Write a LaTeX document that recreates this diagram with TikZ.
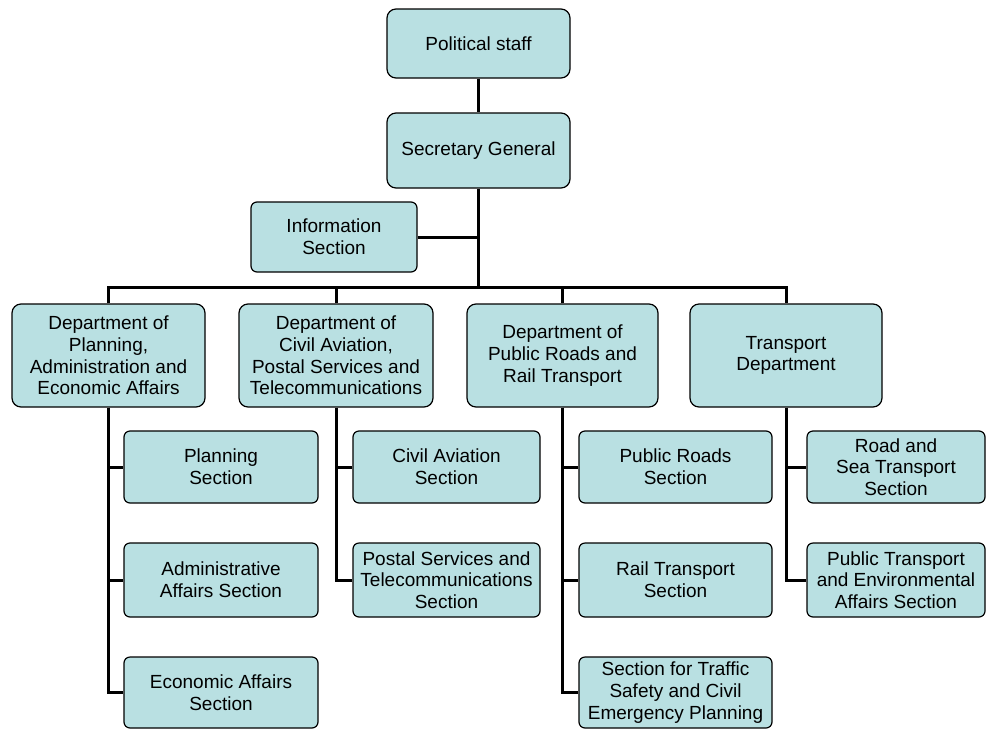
\documentclass[tikz,border=0pt]{standalone}
\usepackage{fontspec}
\setmainfont{Liberation Sans}
\definecolor{boxfill}{RGB}{185,224,226}
\begin{document}
\begin{tikzpicture}[x=1pt,y=-1pt,
  box/.style={draw=black,line width=1.2pt,fill=boxfill,rounded corners=9pt,align=center,
    inner sep=0pt,font=\fontsize{19}{21.7}\selectfont},
  sect/.style={box,rounded corners=6pt},
  link/.style={line width=3pt}]
\useasboundingbox (0,0) rectangle (988,729);
\node[box,minimum width=183pt,minimum height=69pt] (pol) at (478.5,43.5) {Political staff};
\node[box,minimum width=183pt,minimum height=75pt] (sec) at (478.5,150.5) {Secretary General};
\node[sect,minimum width=166pt,minimum height=70pt] (info) at (334,237) {Information\\Section};
\node[box,minimum width=193pt,minimum height=103pt] (d1) at (108.5,355.5) {Department of\\Planning,\\Administration and\\Economic Affairs};
\node[box,minimum width=194pt,minimum height=103pt] (d2) at (336,355.5) {Department of\\Civil Aviation,\\Postal Services and\\Telecommunications};
\node[box,minimum width=191pt,minimum height=103pt] (d3) at (562.5,355.5) {Department of\\Public Roads and\\Rail Transport};
\node[box,minimum width=192pt,minimum height=103pt] (d4) at (786,355.5) {Transport\\Department};
\node[sect,minimum width=194pt,minimum height=72pt] (s11) at (221,467) {Planning\\Section};
\node[sect,minimum width=194pt,minimum height=74pt] (s12) at (221,580) {Administrative\\Affairs Section};
\node[sect,minimum width=194pt,minimum height=71pt] (s13) at (221,692.5) {Economic Affairs\\Section};
\node[sect,minimum width=187pt,minimum height=72pt] (s21) at (446.5,467) {Civil Aviation\\Section};
\node[sect,minimum width=187pt,minimum height=74pt] (s22) at (446.5,580) {Postal Services and\\Telecommunications\\Section};
\node[sect,minimum width=193pt,minimum height=72pt] (s31) at (675.5,467) {Public Roads\\Section};
\node[sect,minimum width=193pt,minimum height=74pt] (s32) at (675.5,580) {Rail Transport\\Section};
\node[sect,minimum width=193pt,minimum height=71pt] (s33) at (675.5,692.5) {Section for Traffic\\Safety and Civil\\Emergency Planning};
\node[sect,minimum width=178pt,minimum height=72pt] (s41) at (896,467) {Road and\\Sea Transport\\Section};
\node[sect,minimum width=178pt,minimum height=74pt] (s42) at (896,580) {Public Transport\\and Environmental\\Affairs Section};
\coordinate (bus) at (478.5,287);
\draw[link] (pol.south) -- (sec.north);
\draw[link] (sec.south) -- (bus);
\draw[link] (info.east) -- (info.east -| bus);
\draw[link] (d1.north) |- (bus) -| (d4.north);
\draw[link] (d2.north) -- (d2.north |- bus);
\draw[link] (d3.north) -- (d3.north |- bus);
\draw[link] (d1.south) |- (s11.west);
\draw[link] (d1.south) |- (s12.west);
\draw[link] (d1.south) |- (s13.west);
\draw[link] (d2.south) |- (s21.west);
\draw[link] (d2.south) |- (s22.west);
\draw[link] (d3.south) |- (s31.west);
\draw[link] (d3.south) |- (s32.west);
\draw[link] (d3.south) |- (s33.west);
\draw[link] (d4.south) |- (s41.west);
\draw[link] (d4.south) |- (s42.west);
\end{tikzpicture}
\end{document}
